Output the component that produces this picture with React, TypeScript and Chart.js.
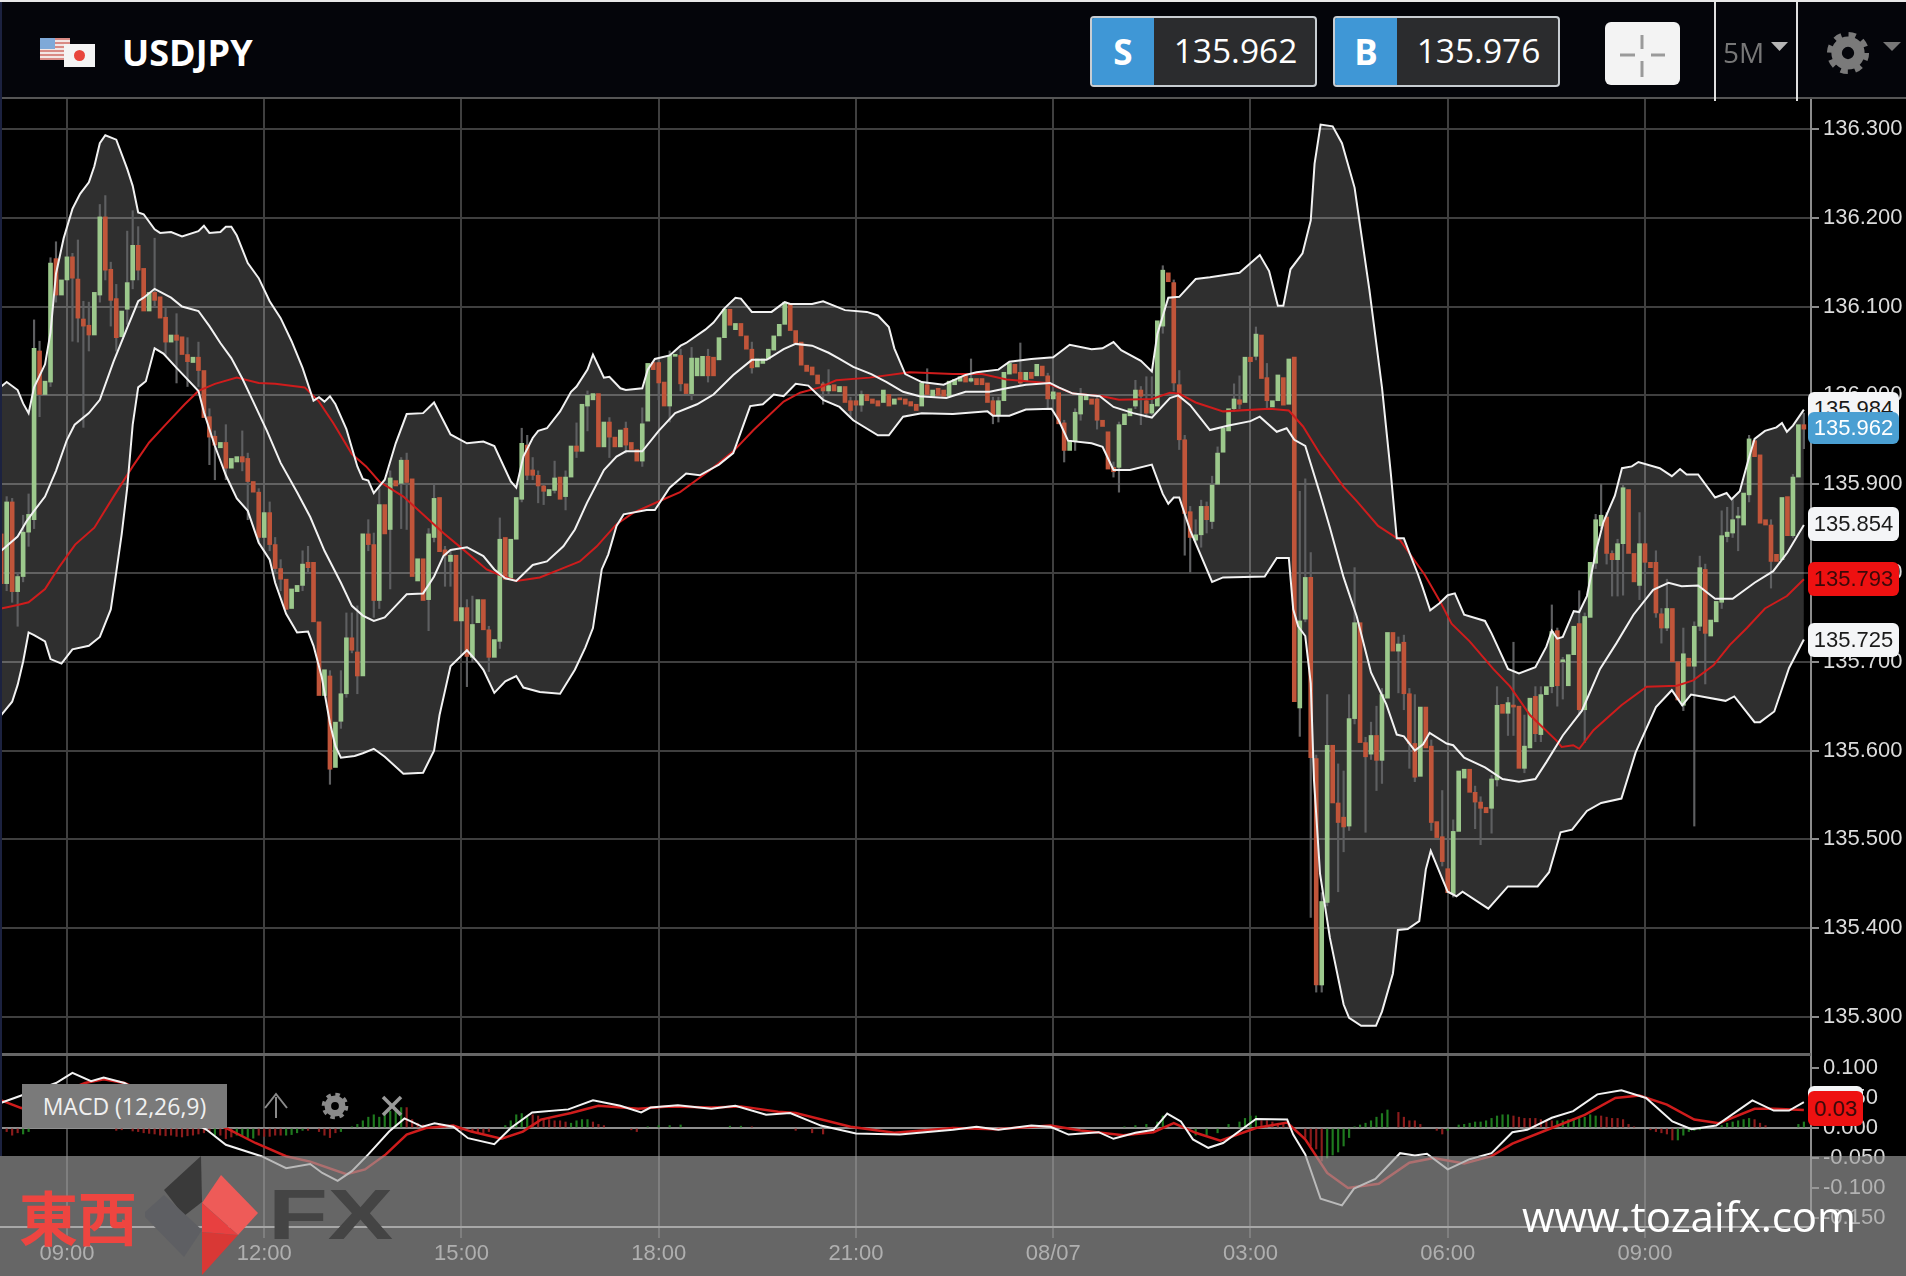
import React, { useEffect, useRef } from "react";
import { Chart, registerables } from "chart.js";

Chart.register(...registerables);

const opens = [
  135.844,135.788,135.880,135.779,135.796,135.846,135.860,136.050,136.001,136.015,
  136.154,136.113,136.130,136.156,136.131,136.086,136.079,136.068,136.113,136.201,
  136.142,136.109,136.066,136.097,136.130,136.169,136.143,136.095,136.116,136.111,
  136.088,136.060,136.068,136.066,136.046,136.037,136.043,136.028,135.976,135.954,
  135.941,135.947,135.918,135.925,135.931,135.929,135.903,135.891,135.840,135.868,
  135.832,135.805,135.793,135.760,135.779,135.786,135.812,135.812,135.745,135.662,
  135.684,135.581,135.633,135.664,135.727,135.711,135.684,135.844,135.832,135.769,
  135.877,135.849,135.904,135.901,135.927,135.906,135.791,135.816,135.770,135.840,
  135.885,135.826,135.813,135.820,135.746,135.761,135.705,135.744,135.770,135.736,
  135.705,135.723,135.840,135.794,135.838,135.883,135.944,135.916,135.910,135.898,
  135.887,135.893,135.908,135.886,135.908,135.943,135.937,135.988,135.995,136.002,
  135.942,135.970,135.953,135.942,135.963,135.947,135.939,135.926,135.971,136.037,
  136.037,136.015,135.988,136.044,136.045,136.013,136.002,136.022,136.022,136.044,
  136.043,136.040,136.065,136.097,136.074,136.081,136.067,136.052,136.032,136.036,
  136.041,136.051,136.067,136.080,136.103,136.073,136.060,136.034,136.032,136.023,
  136.013,136.005,136.012,136.004,136.010,135.994,135.994,135.989,136.001,135.996,
  135.994,135.992,136.001,135.990,135.996,135.996,135.993,135.990,135.988,136.012,
  135.999,136.008,136.006,135.999,136.012,136.016,136.022,136.016,136.019,136.019,
  136.014,135.994,135.978,135.994,136.024,136.035,136.026,136.016,136.026,136.022,
  136.033,136.022,135.996,136.003,135.969,135.938,135.949,135.979,135.995,135.996,
  135.996,135.972,135.959,135.919,135.919,135.967,135.977,135.988,136.006,135.994,
  135.980,135.988,136.078,136.138,136.127,136.012,135.950,135.869,135.837,135.843,
  135.875,135.858,135.900,135.936,135.960,135.985,135.995,135.992,136.043,136.044,
  136.068,136.020,135.987,135.994,136.020,135.990,136.043,135.648,135.748,135.795,
  135.591,135.336,135.429,135.606,135.541,135.525,135.515,135.636,135.744,135.609,
  135.596,135.617,135.589,135.659,135.733,135.712,135.722,135.664,135.608,135.571,
  135.649,135.605,135.520,135.503,135.467,135.439,135.509,135.569,135.579,135.553,
  135.542,135.536,135.535,135.567,135.652,135.642,135.650,135.650,135.580,135.603,
  135.661,135.618,135.663,135.672,135.735,135.700,135.673,135.708,135.743,135.646,
  135.750,135.811,135.853,135.863,135.822,135.815,135.833,135.894,135.822,135.786,
  135.833,135.812,135.812,135.754,135.738,135.760,135.700,135.651,135.704,135.695,
  135.740,135.804,135.729,135.745,135.767,135.841,135.845,135.862,135.854,135.888,
  135.949,135.933,135.860,135.854,135.821,135.815,135.886,135.842,135.908,135.967,
];

const closes = [
  135.788,135.880,135.779,135.796,135.846,135.866,136.053,136.001,136.016,136.149,
  136.113,136.130,136.156,136.132,136.087,136.078,136.068,136.116,136.201,136.141,
  136.107,136.065,136.095,136.127,136.169,136.141,136.095,136.116,136.107,136.087,
  136.060,136.068,136.062,136.046,136.038,136.043,136.028,135.975,135.953,135.944,
  135.947,135.918,135.929,135.931,135.925,135.903,135.891,135.840,135.868,135.832,
  135.805,135.793,135.759,135.782,135.786,135.810,135.806,135.745,135.662,135.691,
  135.579,135.632,135.664,135.727,135.713,135.684,135.844,135.832,135.769,135.877,
  135.844,135.907,135.898,135.927,135.902,135.796,135.816,135.769,135.844,135.884,
  135.824,135.820,135.820,135.746,135.761,135.706,135.742,135.770,135.736,135.705,
  135.725,135.838,135.793,135.838,135.885,135.946,135.910,135.910,135.898,135.892,
  135.894,135.907,135.883,135.908,135.943,135.937,135.990,136.000,136.002,135.942,
  135.970,135.953,135.942,135.961,135.944,135.939,135.926,135.968,136.036,136.029,
  136.014,135.988,136.045,136.045,136.013,136.002,136.042,136.042,136.044,136.022,
  136.022,136.065,136.097,136.079,136.081,136.067,136.052,136.031,136.041,136.041,
  136.052,136.067,136.080,136.105,136.073,136.059,136.034,136.027,136.023,136.013,
  136.005,136.011,136.005,136.010,135.992,135.983,135.989,136.001,135.994,135.991,
  135.988,136.006,135.988,135.996,135.995,135.990,135.988,135.983,136.014,136.001,
  136.006,136.000,135.999,136.016,136.018,136.021,136.015,136.019,136.012,136.012,
  135.992,135.978,135.994,136.026,136.036,136.025,136.014,136.026,136.019,136.035,
  136.022,135.996,136.004,135.968,135.938,135.949,135.981,136.001,136.001,135.990,
  135.972,135.965,135.917,135.914,135.967,135.979,135.985,136.006,135.999,135.980,
  135.990,136.084,136.141,136.128,136.014,135.950,135.867,135.840,135.843,135.875,
  135.860,135.899,135.935,135.963,135.985,135.996,135.990,136.043,136.038,136.069,
  136.019,135.994,135.994,136.023,135.989,136.041,135.655,135.746,135.795,135.592,
  135.336,135.430,135.606,135.541,135.519,135.514,135.636,135.744,135.609,135.593,
  135.617,135.589,135.663,135.733,135.712,135.720,135.664,135.608,135.570,135.649,
  135.603,135.519,135.502,135.475,135.440,135.509,135.577,135.579,135.553,135.542,
  135.535,135.530,135.568,135.651,135.642,135.654,135.649,135.580,135.605,135.659,
  135.619,135.663,135.672,135.734,135.673,135.701,135.708,135.740,135.646,135.751,
  135.812,135.860,135.865,135.822,135.815,135.833,135.896,135.822,135.790,135.833,
  135.812,135.806,135.755,135.738,135.760,135.700,135.657,135.709,135.695,135.740,
  135.806,135.732,135.747,135.768,135.842,135.846,135.860,135.863,135.890,135.951,
  135.931,135.856,135.854,135.813,135.813,135.885,135.842,135.908,135.967,135.962,
];

const wickIdx = [
  1,2,3,4,5,6,7,9,10,13,14,15,16,18,19,20,21,23,24,25,28,30,32,34,36,38,39,41,44,45,47,49,50,51,55,56,60,62,63,64,65,67,68,69,71,73,74,78,79,
  81,82,85,86,89,91,95,96,97,98,99,101,103,105,107,111,114,117,120,122,124,126,129,137,150,151,155,157,169,177,181,182,186,191,194,196,197,200,
  203,204,207,208,209,210,212,214,215,216,217,218,219,220,221,222,225,226,229,231,237,238,239,240,241,242,244,245,246,247,249,250,251,252,255,256,257,258,
  261,263,265,269,270,272,273,275,276,278,280,281,283,284,285,288,289,291,292,293,294,295,296,299,300,302,303,304,307,309,310,311,314,315,316,317,319,323,327,329,
];
const wickHigh = [
  135.886,135.884,135.800,135.865,135.889,136.085,136.061,136.155,136.173,136.160,136.175,136.106,136.105,136.215,136.225,136.150,136.125,136.185,136.208,136.190,136.177,136.100,136.092,136.065,136.060,135.985,135.960,135.967,135.960,135.935,135.895,135.880,135.840,135.815,135.825,135.830,135.690,135.690,135.755,135.755,135.763,135.860,135.845,135.895,135.915,135.930,135.935,135.850,135.900,
  135.830,135.825,135.770,135.774,135.740,135.862,135.963,135.955,135.930,135.915,135.900,135.926,135.915,135.969,136.005,135.975,135.970,135.986,136.040,136.050,136.052,136.054,136.052,136.060,136.015,136.029,135.998,136.005,136.030,136.041,135.998,135.998,136.059,136.025,135.972,135.985,136.008,136.000,
  135.925,135.970,136.017,136.010,136.021,136.021,136.146,136.130,136.028,135.955,135.875,135.860,135.882,135.880,135.909,135.942,136.013,136.022,136.077,136.036,135.892,135.906,135.823,135.595,135.440,135.663,135.585,135.577,135.663,135.806,135.615,135.632,135.650,135.670,135.728,135.730,135.670,135.663,
  135.612,135.555,135.522,135.560,135.548,135.572,135.672,135.660,135.722,135.640,135.672,135.672,135.764,135.738,135.705,135.780,135.755,135.866,135.900,135.868,135.825,135.838,135.900,135.868,135.868,135.825,135.760,135.793,135.738,135.745,135.819,135.810,135.870,135.874,135.883,135.874,135.955,135.860,135.911,135.980,
];
const wickLow = [
  135.780,135.767,135.740,135.790,135.830,135.850,135.976,136.010,136.105,136.061,136.060,135.964,136.050,136.105,136.130,136.078,136.050,136.080,136.120,136.130,136.100,136.045,136.014,136.010,136.010,135.922,135.905,135.905,135.915,135.860,135.835,135.825,135.800,135.780,135.780,135.800,135.562,135.625,135.660,135.710,135.664,135.825,135.750,135.760,135.782,135.850,135.849,135.735,135.835,
  135.785,135.785,135.672,135.700,135.689,135.715,135.880,135.905,135.905,135.879,135.877,135.890,135.871,135.930,135.960,135.930,135.935,135.920,135.995,135.970,136.005,135.995,136.015,136.025,135.990,136.000,135.975,135.982,135.998,136.015,135.968,135.970,136.012,135.985,135.925,135.938,135.972,135.962,
  135.908,135.891,135.985,135.967,135.975,135.978,136.070,136.005,135.939,135.820,135.801,135.835,135.829,135.845,135.850,135.930,135.982,135.985,136.040,135.985,135.616,135.745,135.412,135.328,135.328,135.425,135.441,135.486,135.510,135.630,135.508,135.590,135.555,135.563,135.665,135.646,135.580,135.565,
  135.510,135.470,135.435,135.512,135.494,135.507,135.560,135.617,135.617,135.575,135.610,135.610,135.665,135.650,135.658,135.640,135.609,135.805,135.850,135.810,135.774,135.774,135.775,135.770,135.800,135.750,135.721,135.735,135.645,135.515,135.735,135.675,135.760,135.835,135.840,135.825,135.880,135.783,135.840,135.940,
];

const upperX = [0,1,3,4,5,6,8,9,10,11.4,13,14.4,16,17,18,19,21,23,24,25,26,28,29,31,33,36,37,38,40,41,42,43,45,47,49,51,53,55,57,58,59,60,61,63,65,66,67,68,70,72,74,77,79,82,85,88,90,93,94,95.3,97,98,99.6,102,104,105,107,108,110,111,113,114,117,118,119.3,122,124,125,128.5,130,132,134,135,137,140.6,143,144,148,150,154,158,160,162,163,165,168,172,176,178,182,184,188,192,195,199,201,203,204.4,208,210,211,213,215,218,220.6,226,229.7,231.4,233,234,235.3,237.5,239,239.7,240.8,243,244.7,247,249.7,252,253.6,254.7,256,257,258.6,259.4,260.8,262.5,264,265.3,267,270.8,272,275,277,280,282,283,284,285,287,288,289.4,291,292.4,294.5,295.8,297.6,298.8,302.7,304.9,306.4,307.6,309.7,312.8,314.9,315.8,317.3,318.9,320,321.9,324,325,325.9,327,329];
const upperY = [136.010,136.015,136.006,135.991,135.980,136.009,136.035,136.071,136.137,136.177,136.210,136.227,136.240,136.258,136.284,136.293,136.288,136.255,136.236,136.206,136.204,136.187,136.183,136.184,136.179,136.185,136.191,136.183,136.184,136.190,136.190,136.180,136.149,136.132,136.106,136.087,136.061,136.031,135.994,135.998,135.993,135.999,135.990,135.962,135.920,135.906,135.904,135.890,135.905,135.946,135.979,135.980,135.992,135.956,135.946,135.948,135.943,135.903,135.896,135.931,135.952,135.960,135.963,135.982,136.004,136.010,136.029,136.046,136.020,136.021,136.008,136.006,136.008,136.029,136.041,136.045,136.056,136.059,136.074,136.082,136.098,136.110,136.109,136.094,136.094,136.105,136.103,136.103,136.106,136.096,136.094,136.090,136.077,136.053,136.024,136.015,136.012,136.023,136.026,136.029,136.038,136.041,136.043,136.057,136.052,136.053,136.060,136.051,136.039,136.027,136.069,136.110,136.111,136.131,136.133,136.138,136.158,136.140,136.101,136.101,136.142,136.160,136.197,136.261,136.305,136.303,136.284,136.234,136.119,136.009,135.913,135.839,135.839,135.823,135.798,135.784,135.758,135.766,135.775,135.777,135.753,135.746,135.732,135.692,135.687,135.694,135.717,135.735,135.726,135.728,135.757,135.756,135.774,135.823,135.857,135.887,135.918,135.920,135.925,135.918,135.909,135.917,135.911,135.911,135.885,135.890,135.883,135.892,135.928,135.951,135.960,135.964,135.969,135.959,135.966,135.984];

const lowerX = [0,2,3,4,5,6,8,9,11,13,16,18,20,21,22,23,24,25,26.4,28,29.6,32,34,36,37,39,41,43,45,47,49,50,52,54,56,57,58.5,60,61,62,64.5,66,68,70,73.4,77,79,80,82,85,87,88,90,92,94,95.3,98.3,102,104.7,106.6,108,109.6,110.8,112.3,113.6,117.8,119.3,122,125,127.5,131,133.6,136.7,139,141,142.8,145,147.3,150,153,155.5,160,162,164.6,168,173.7,180,181,184,187,191.7,193,194.7,199,201,203,206,210,212,213,214,215,217,221,223,230.6,232.8,235,235.8,236.7,238,239,239.6,240.7,242.5,245,246,248.2,250.9,252,254,254.9,256.7,258.8,260,260.9,264,265.6,266.7,271.4,275,280.4,282.5,284.6,286.7,289.4,292,295.7,298.3,302,304.9,306.8,308.4,314.7,316.3,320,321,323.6,326.3,329];
const lowerY = [135.640,135.655,135.674,135.700,135.733,135.730,135.723,135.703,135.698,135.714,135.718,135.728,135.759,135.801,135.844,135.896,135.967,136.009,136.016,136.053,136.047,136.031,136.018,136.005,135.981,135.943,135.910,135.884,135.870,135.834,135.815,135.789,135.754,135.733,135.734,135.718,135.683,135.631,135.605,135.592,135.594,135.597,135.602,135.593,135.574,135.575,135.600,135.640,135.695,135.713,135.699,135.691,135.665,135.678,135.684,135.671,135.666,135.664,135.691,135.716,135.738,135.804,135.821,135.853,135.866,135.871,135.871,135.896,135.912,135.910,135.922,135.935,135.988,135.990,136.001,135.999,136.013,136.011,135.995,135.987,135.972,135.955,135.955,135.976,135.980,135.979,135.982,135.977,135.977,135.984,135.985,135.972,135.949,135.946,135.942,135.916,135.916,135.922,135.889,135.878,135.885,135.885,135.848,135.790,135.795,135.796,135.817,135.817,135.759,135.740,135.729,135.676,135.566,135.461,135.389,135.314,135.299,135.290,135.290,135.306,135.349,135.398,135.399,135.408,135.466,135.487,135.441,135.436,135.441,135.422,135.447,135.447,135.463,135.508,135.511,135.532,135.541,135.546,135.598,135.649,135.668,135.651,135.663,135.656,135.661,135.632,135.632,135.644,135.693,135.725];

const midX = [0,3,4.6,6,8,10,12,13.4,16,18,20.5,23,25,26,28,31,33,36,38,40,42,44,46,48.5,51,54,56.4,59,62,64,66,68,70,72,74,77,79,80.7,82,85,88,90,92,94,97,99.6,102.6,104.7,106.9,110,112.3,114,117,120,123,127,130,133.6,137,139.7,142.8,145,148,151,153,155.5,158.8,161.6,164.6,167.6,172.5,176,180.4,183.5,187,191.4,193,195.6,200.5,203,206.6,210,213.3,214.8,217,220.6,224,228,229.7,232.8,234.6,236,238,240.7,242.5,245,247.4,250,252.8,254.7,256,258,259.5,260.7,263.8,265,267,270.8,274,277,280,282,285,288.5,291.8,294.8,297.9,301.5,304.3,306.7,309.7,312.8,316,320,323.4,326,329];
const midY = [135.825,135.841,135.858,135.870,135.886,135.915,135.950,135.967,135.980,135.995,136.038,136.076,136.106,136.110,136.120,136.110,136.100,136.095,136.078,136.059,136.042,136.019,135.993,135.960,135.924,135.891,135.863,135.825,135.789,135.763,135.752,135.746,135.750,135.763,135.776,135.777,135.796,135.819,135.826,135.829,135.819,135.804,135.794,135.791,135.809,135.813,135.830,135.849,135.879,135.916,135.931,135.937,135.937,135.960,135.980,135.990,136.001,136.023,136.040,136.040,136.052,136.058,136.056,136.048,136.041,136.032,136.024,136.015,136.004,135.999,135.997,136.004,136.004,136.008,136.012,136.014,136.009,136.002,135.999,135.987,135.980,135.975,135.997,136.000,135.989,135.961,135.966,135.971,135.976,135.959,135.963,135.950,135.943,135.889,135.851,135.795,135.751,135.688,135.652,135.618,135.616,135.600,135.607,135.620,135.608,135.606,135.592,135.581,135.568,135.565,135.568,135.587,135.617,135.645,135.692,135.721,135.753,135.781,135.789,135.785,135.786,135.771,135.771,135.789,135.802,135.823,135.854];

const maX = [0,3,5,8,10.5,13.5,17,20.5,24,27,30,33.5,36,39,43,47,50,55.4,58,60.6,64,66.6,69,73.4,77.7,80.7,84.4,88.6,91.7,94,98.3,102,105.6,108.7,112.3,115.4,120.9,123.9,129.4,133.6,137.3,142.8,145.8,149.4,152.4,158.5,165.8,173.7,179,183.5,190.8,195.6,201,204,210,213.3,215,218,223,231.5,235,237.6,240.7,245,247.4,251.3,255.3,259.8,262.6,264.7,268,272.3,275.4,279,283.9,284.8,286.9,288,290.6,295.7,300.3,305.8,308.8,312.5,315.5,318.6,321.9,325.9,329];
const maY = [135.760,135.764,135.767,135.782,135.806,135.832,135.851,135.886,135.920,135.947,135.967,135.990,136.005,136.013,136.020,136.014,136.013,136.009,135.993,135.969,135.934,135.920,135.903,135.886,135.862,135.845,135.826,135.804,135.796,135.791,135.795,135.804,135.813,135.830,135.855,135.868,135.883,135.891,135.916,135.937,135.961,135.993,136.003,136.009,136.017,136.020,136.026,136.024,136.024,136.018,136.014,136.002,135.999,135.995,135.996,136.003,136.002,135.992,135.982,135.985,135.983,135.965,135.934,135.897,135.881,135.853,135.837,135.798,135.768,135.743,135.723,135.692,135.672,135.640,135.611,135.604,135.606,135.602,135.623,135.651,135.672,135.673,135.679,135.696,135.719,135.738,135.760,135.774,135.793];

const macdX = [0,10,13,16.4,18.7,22.5,37.5,41,47.5,52,56.4,58.6,61.4,64,67,70.8,73.6,76.9,79.1,82.5,85.2,90,93,96.9,103.5,108,113,116.8,118.5,123.5,129.6,134,139.6,144,149.6,156,164,173.7,178,182,188,191.5,194.8,200.3,203,207,210.3,212.8,215.3,217.5,220.3,223,229,234.7,235.8,238,240.8,244.7,246.9,250.8,255.3,258,260.2,264,268,272,275.8,278.5,283,286.9,291.3,295.7,300.2,305,308.5,313,316.8,319.6,323.5,326.3,329];
const macdY = [0.042,0.075,0.092,0.078,0.084,0.075,-0.003,-0.028,-0.047,-0.067,-0.060,-0.075,-0.088,-0.072,-0.044,-0.006,0.016,0.002,0.008,0.002,-0.017,-0.027,0,0.026,0.031,0.046,0.037,0.026,0.034,0.038,0.032,0.037,0.022,0.025,0.004,-0.009,-0.011,-0.003,0.002,-0.003,0.004,0.002,-0.011,-0.007,-0.018,-0.008,-0.003,0.024,0.011,-0.019,-0.033,-0.025,0.015,0.014,-0.011,-0.044,-0.118,-0.129,-0.101,-0.085,-0.042,-0.046,-0.043,-0.069,-0.052,-0.042,-0.007,-0.003,0.017,0.028,0.056,0.063,0.050,0.011,-0.002,0.004,0.028,0.046,0.029,0.029,0.043];
const signalX = [0,3.7,15.3,18.7,22.5,41,46.4,52,56.4,63,66.4,70.2,74,77.5,82.5,85.8,91.3,95.2,98.5,104,109,116.3,121.8,129.6,135,141.8,145,155,163,173.7,181.5,191.5,197,204.8,210.3,214,218,222.5,229,234.7,238,242,245.8,251.4,257,261.4,267,272,275.8,283,289,294.6,299,304,309,313.5,320,323.5,329];
const signalY = [0.046,0.033,0.075,0.081,0.075,0,-0.025,-0.047,-0.056,-0.077,-0.069,-0.044,-0.011,0,0.004,-0.006,-0.018,-0.006,0.014,0.025,0.037,0.032,0.036,0.034,0.036,0.027,0.025,0.002,-0.008,0,-0.002,0.004,-0.004,-0.012,-0.007,0.008,-0.008,-0.021,0,0.009,-0.019,-0.075,-0.100,-0.093,-0.058,-0.050,-0.059,-0.047,-0.026,0,0.022,0.050,0.054,0.039,0.014,0.008,0.032,0.032,0.030];

const histGreenX = [4,5,39,43,44,45,46,52,53,54,55,62,64,65,66,67,68,69,70,71,72,73,92,93,94,95,96,104,105,106,107,118,120,122,124,133,135,205,207,209,211,212,218,220,222,224,226,227,228,229,242,243,244,245,246,247,248,249,250,251,252,253,264,266,267,268,269,270,271,272,273,274,275,284,285,286,287,288,289,290,291,306,307,308,309,310,314,315,316,317,318,319,328,329];
const histGreenY = [-0.010,-0.006,-0.012,-0.012,-0.013,-0.016,-0.017,-0.012,-0.011,-0.008,-0.004,-0.006,0.002,0.006,0.012,0.018,0.022,0.018,0.026,0.028,0.032,0.034,0.004,0.012,0.022,0.024,0.020,0.008,0.012,0.014,0.014,0.002,0.004,0.004,0.005,0.003,0.003,0.002,0.004,0.006,0.010,0.020,-0.012,-0.012,-0.008,0.006,0.010,0.016,0.020,0.020,-0.050,-0.045,-0.040,-0.030,-0.016,0.002,0.005,0.008,0.012,0.018,0.024,0.030,-0.004,0.005,0.006,0.008,0.010,0.010,0.012,0.016,0.020,0.022,0.022,0.012,0.012,0.014,0.016,0.016,0.018,0.022,0.020,-0.020,-0.012,-0.006,-0.004,-0.003,0.004,0.008,0.010,0.012,0.014,0.016,0.006,0.010];
const histRedX = [1,2,3,21,22,24,25,26,27,28,29,30,31,32,33,34,35,36,37,38,40,41,42,47,48,49,50,51,56,58,59,60,61,74,75,76,77,80,81,83,84,86,87,88,89,97,98,99,100,101,102,103,108,109,110,115,116,137,145,148,150,230,231,232,233,234,235,238,239,240,241,255,256,257,258,259,262,263,276,277,278,279,280,281,282,283,292,293,294,295,296,297,298,301,302,303,304,305,320,321,322];
const histRedY = [-0.006,-0.012,-0.008,-0.004,-0.003,-0.005,-0.006,-0.008,-0.009,-0.010,-0.012,-0.013,-0.012,-0.014,-0.015,-0.013,-0.012,-0.010,-0.008,-0.006,-0.012,-0.018,-0.015,-0.012,-0.014,-0.014,-0.012,-0.012,-0.004,-0.006,-0.012,-0.016,-0.008,0.034,0.014,0.008,0.005,0.006,0.004,-0.002,-0.004,-0.006,-0.008,-0.008,-0.006,0.022,0.020,0.016,0.014,0.012,0.012,0.010,0.010,0.006,0.004,-0.003,-0.006,0.002,-0.004,-0.008,-0.010,0.012,0.012,0.010,0.008,0.006,0.005,-0.016,-0.030,-0.035,-0.055,0.026,0.018,0.012,0.012,0.006,-0.004,-0.010,0.020,0.018,0.016,0.016,0.016,0.014,0.012,0.012,0.020,0.018,0.016,0.016,0.014,0.006,0.002,-0.003,-0.006,-0.008,-0.010,-0.020,0.014,0.008,0.004];

const priceTicks = [136.3, 136.2, 136.1, 136.0, 135.9, 135.8, 135.7, 135.6, 135.5, 135.4, 135.3];
const macdTicks = [0.1, 0.05, 0, -0.05, -0.1, -0.15];
const timeTicks = [12, 48, 84, 120, 156, 192, 228, 264, 300];
const timeLabels = ["09:00", "12:00", "15:00", "18:00", "21:00", "08/07", "03:00", "06:00", "09:00"];

const zip = (xs: number[], ys: number[]) => xs.map((x, i) => ({ x, y: ys[i] }));
const AXIS_FONT = { family: "'Liberation Sans'", size: 22 };
const setTicks = (list: number[]) => (s: any) => {
  s.ticks = list.map((value) => ({ value }));
};
const clearPadding = (s: any) => {
  s.paddingTop = 0;
  s.paddingBottom = 0;
  s.paddingLeft = 0;
  s.paddingRight = 0;
};
const xLeft = -0.219;
const xRight = 330.3;

function line(data: any[], color: string, width = 2, extra: any = {}) {
  return {
    type: "line",
    data,
    borderColor: color,
    borderWidth: width,
    pointRadius: 0,
    tension: 0,
    order: 0,
    ...extra,
  };
}

function xScale(showLabels: boolean, gridColor: string) {
  return {
    type: "linear",
    offset: false,
    min: xLeft,
    max: xRight,
    afterBuildTicks: setTicks(timeTicks),
    afterFit: (s: any) => {
      clearPadding(s);
      s.height = showLabels ? 49 : 0;
    },
    border: showLabels ? { display: true, color: "#bbbbbb", width: 2 } : { display: false },
    grid: {
      offset: false,
      color: gridColor,
      lineWidth: 2,
      drawTicks: showLabels,
      tickLength: 11,
      tickColor: gridColor,
    },
    ticks: {
      display: showLabels,
      autoSkip: false,
      maxRotation: 0,
      minRotation: 0,
      padding: 3,
      color: "#d2d2d2",
      font: AXIS_FONT,
      callback: (v: number) => timeLabels[timeTicks.indexOf(v)] ?? "",
    },
  };
}

function yScale(min: number, max: number, list: number[], grid: any) {
  return {
    position: "right",
    min,
    max,
    afterBuildTicks: setTicks(list),
    afterFit: (s: any) => {
      clearPadding(s);
      s.width = 95;
    },
    border: { color: "#8c8c8c", width: 2 },
    grid: { lineWidth: 2, tickLength: 8, tickColor: "#8c8c8c", ...grid },
    ticks: {
      padding: 4,
      color: "#dcdcdc",
      font: AXIS_FONT,
      autoSkip: false,
      callback: (v: number) => v.toFixed(3),
    },
  };
}

const baseOptions: any = {
  responsive: false,
  animation: false,
  devicePixelRatio: 1,
  layout: { padding: 0 },
  events: [],
  plugins: {
    legend: { display: false },
    tooltip: { enabled: false },
    filler: { drawTime: "beforeDatasetsDraw" },
  },
};

function Badge(p: { top: number; h: number; bg: string; color: string; text: string; w?: number }) {
  return (
    <div
      style={{
        position: "absolute",
        left: 1808,
        top: p.top,
        width: p.w ?? 91,
        height: p.h,
        background: p.bg,
        color: p.color,
        borderRadius: 6,
        font: "22px 'Liberation Sans'",
        lineHeight: p.h + "px",
        textAlign: "center",
      }}
    >
      {p.text}
    </div>
  );
}

function Quote(p: { left: number; letter: string; price: string }) {
  return (
    <div
      style={{
        position: "absolute",
        left: p.left,
        top: 16,
        width: 227,
        height: 71,
        boxSizing: "border-box",
        border: "2px solid #c8cdd2",
        borderRadius: 4,
        background: "#2b2c2e",
        overflow: "hidden",
      }}
    >
      <div
        style={{
          position: "absolute",
          left: 0,
          top: 0,
          width: 62,
          height: 67,
          background: "#3f97d6",
          color: "#fff",
          font: "700 35px 'Open Sans'",
          lineHeight: "67px",
          textAlign: "center",
        }}
      >
        {p.letter}
      </div>
      <div
        style={{
          position: "absolute",
          left: 62,
          top: 0,
          width: 163,
          height: 64,
          color: "#fff",
          font: "33.5px 'Open Sans'",
          lineHeight: "64px",
          textAlign: "center",
        }}
      >
        {p.price}
      </div>
    </div>
  );
}

function Gear(p: { cx: number; cy: number; r: number; color: string }) {
  const { cx, cy, r, color } = p;
  const circ = 2 * Math.PI * r * 0.95;
  return (
    <g fill="none" stroke={color}>
      <circle cx={cx} cy={cy} r={r * 0.6} strokeWidth={r * 0.55} />
      <circle cx={cx} cy={cy} r={r * 0.95} strokeWidth={r * 0.32} strokeDasharray={`${circ / 16} ${circ / 16}`} />
    </g>
  );
}

export default function App() {
  const mainRef = useRef<HTMLCanvasElement>(null);
  const macdRef = useRef<HTMLCanvasElement>(null);

  useEffect(() => {
    const candleBodies = opens.map((o, i) => ({ x: i, y: [o, closes[i]] }));
    const candleColors = opens.map((o, i) => (closes[i] >= o ? "#9cc88c" : "#c0553a"));
    const wicks = wickIdx.map((x, i) => ({ x, y: [wickLow[i], wickHigh[i]] }));

    const main = new Chart(mainRef.current as HTMLCanvasElement, {
      type: "bar",
      data: {
        datasets: [
          line(zip(upperX, upperY), "#f2f2f2", 2, { fill: "+1", backgroundColor: "rgba(255,255,255,0.185)" }),
          line(zip(lowerX, lowerY), "#f2f2f2", 2),
          line(zip(midX, midY), "#f2f2f2", 2),
          line(zip(maX, maY), "#cf1c1c", 2),
          {
            type: "bar",
            data: candleBodies,
            backgroundColor: candleColors,
            barThickness: 4,
            minBarLength: 2,
            grouped: false,
            order: 1,
          },
          {
            type: "bar",
            data: wicks,
            backgroundColor: "#5e5f61",
            barThickness: 1.5,
            grouped: false,
            order: 2,
          },
        ],
      } as any,
      options: {
        ...baseOptions,
        scales: {
          x: xScale(false, "#3f3f3f"),
          y: yScale(135.2583, 136.3349, priceTicks, { color: "#3f3f3f" }),
        },
      },
    });

    const macd = new Chart(macdRef.current as HTMLCanvasElement, {
      type: "bar",
      data: {
        datasets: [
          line(zip(macdX, macdY), "#f2f2f2", 2),
          line(zip(signalX, signalY), "#cf1c1c", 2.5),
          {
            type: "bar",
            data: zip(histGreenX, histGreenY),
            backgroundColor: "#1f7a1f",
            barThickness: 1.5,
            grouped: false,
            order: 1,
          },
          {
            type: "bar",
            data: zip(histRedX, histRedY),
            backgroundColor: "#8c1c1c",
            barThickness: 1.5,
            grouped: false,
            order: 1,
          },
        ],
      } as any,
      options: {
        ...baseOptions,
        scales: {
          x: xScale(true, "#4a4a4a"),
          y: yScale(-0.165, 0.1233, macdTicks, {
            color: (c: any) => (c.tick && c.tick.value === 0 ? "#8f8f8f" : "rgba(0,0,0,0)"),
          }),
        },
      },
    });

    return () => {
      main.destroy();
      macd.destroy();
    };
  }, []);

  return (
    <div
      style={{
        position: "absolute",
        left: 0,
        top: 0,
        width: 1906,
        height: 1276,
        overflow: "hidden",
        background: "#000",
      }}
    >
      <canvas
        ref={mainRef}
        width={1906}
        height={956}
        style={{ position: "absolute", left: 0, top: 98, display: "block" }}
      />
      <canvas
        ref={macdRef}
        width={1906}
        height={222}
        style={{ position: "absolute", left: 0, top: 1054, display: "block" }}
      />

      {/* panel separators */}
      <div style={{ position: "absolute", left: 0, top: 1053, width: 1811, height: 3, background: "#666" }} />

      {/* header */}
      <div style={{ position: "absolute", left: 0, top: 0, width: 1906, height: 98, background: "#04050a" }} />
      <div style={{ position: "absolute", left: 0, top: 0, width: 1906, height: 2, background: "#e8e8e8" }} />
      <div style={{ position: "absolute", left: 0, top: 97, width: 1906, height: 2, background: "#555" }} />
      <div style={{ position: "absolute", left: 0, top: 2, width: 2, height: 1154, background: "#1c2240" }} />
      <div style={{ position: "absolute", left: 1714, top: 2, width: 2, height: 99, background: "#e0e0e0" }} />
      <div style={{ position: "absolute", left: 1796, top: 2, width: 2, height: 99, background: "#e0e0e0" }} />

      {/* flags */}
      <div
        style={{
          position: "absolute",
          left: 40,
          top: 38,
          width: 30,
          height: 22,
          background: "repeating-linear-gradient(#d98a84 0 2px, #f3e6e4 2px 4px)",
        }}
      >
        <div style={{ width: 15, height: 11, background: "#7fa9d8" }} />
      </div>
      <div style={{ position: "absolute", left: 64, top: 44, width: 31, height: 23, background: "#f4f4f4" }}>
        <div
          style={{
            position: "absolute",
            left: 10,
            top: 6,
            width: 11,
            height: 11,
            borderRadius: 6,
            background: "#e8453c",
          }}
        />
      </div>

      <div
        style={{
          position: "absolute",
          left: 122,
          top: 28,
          color: "#fff",
          font: "700 36px 'Open Sans'",
          lineHeight: "50px",
        }}
      >
        USDJPY
      </div>

      <Quote left={1090} letter="S" price="135.962" />
      <Quote left={1333} letter="B" price="135.976" />

      <div
        style={{
          position: "absolute",
          left: 1605,
          top: 22,
          width: 75,
          height: 63,
          background: "#f3f3f3",
          borderRadius: 6,
        }}
      />

      <div
        style={{
          position: "absolute",
          left: 1723,
          top: 32,
          color: "#777",
          font: "28px 'Open Sans'",
          lineHeight: "40px",
        }}
      >
        5M
      </div>

      {/* MACD caption */}
      <div
        style={{
          position: "absolute",
          left: 22,
          top: 1084,
          width: 205,
          height: 44,
          background: "#7a7a7a",
          color: "#f0f0f0",
          font: "23px 'Open Sans'",
          lineHeight: "44px",
          textAlign: "center",
        }}
      >
        MACD (12,26,9)
      </div>

      {/* price badges */}
      <Badge top={392} h={34} bg="#f4f5f7" color="#1a1a1a" text="135.984" />
      <Badge top={412} h={32} bg="#4a9fd2" color="#ffffff" text="135.962" />
      <Badge top={507} h={34} bg="#f4f5f7" color="#1a1a1a" text="135.854" />
      <Badge top={562} h={34} bg="#ee1111" color="#3a0a0a" text="135.793" />
      <Badge top={623} h={34} bg="#f4f5f7" color="#1a1a1a" text="135.725" />
      <Badge top={1086} h={30} bg="#f4f5f7" color="#f4f5f7" text="" w={55} />
      <Badge top={1091} h={35} bg="#ee1111" color="#3a0a0a" text="0.03" w={55} />

      {/* watermark band */}
      <div
        style={{
          position: "absolute",
          left: 0,
          top: 1156,
          width: 1906,
          height: 120,
          background: "rgba(156,156,156,0.655)",
        }}
      />

      {/* icons and logo */}
      <svg width={1906} height={1276} style={{ position: "absolute", left: 0, top: 0, pointerEvents: "none" }}>
        <g stroke="#9a9a9a" strokeWidth={3}>
          <line x1={1620} y1={55} x2={1635} y2={55} />
          <line x1={1651} y1={55} x2={1665} y2={55} />
          <line x1={1642} y1={35} x2={1642} y2={49} />
          <line x1={1642} y1={61} x2={1642} y2={77} />
        </g>
        <polygon points="1771,42 1788,42 1779.5,51" fill="#b5b5b5" />
        <polygon points="1883,42 1901,42 1892,51" fill="#777" />
        <Gear cx={1848} cy={53} r={19} color="#7a7a7a" />

        <g stroke="#8a8a8a" strokeWidth={2} fill="none">
          <line x1={276} y1={1097} x2={276} y2={1118} />
          <polyline points="265,1108 276,1094 287,1108" />
        </g>
        <Gear cx={335} cy={1106} r={12} color="#8a8a8a" />
        <g stroke="#9a9a9a" strokeWidth={3.5}>
          <line x1={383} y1={1097} x2={401} y2={1115} />
          <line x1={401} y1={1097} x2={383} y2={1115} />
        </g>

        <polygon points="201,1156 164,1190 184,1216 202,1202" fill="#3a3a3a" />
        <polygon points="145,1212 164,1195 202,1230 184,1257 145,1217" fill="#5e5f63" />
        <polygon points="221,1175 258,1213 238,1235 202,1203" fill="#ee5b58" />
        <polygon points="202,1232 238,1235 202,1275" fill="#d93835" />
        <polygon points="202,1203 238,1235 202,1232" fill="#e84040" />
      </svg>

      <div
        style={{
          position: "absolute",
          left: 19,
          top: 1176,
          color: "#ee4540",
          font: "700 59px 'Noto Sans CJK JP'",
          lineHeight: "80px",
          whiteSpace: "nowrap",
        }}
      >
        東西
      </div>
      <div
        style={{
          position: "absolute",
          left: 268,
          top: 1175,
          color: "#444",
          font: "700 70px 'Liberation Sans'",
          lineHeight: "80px",
          transform: "scaleX(1.4)",
          transformOrigin: "0 0",
        }}
      >
        FX
      </div>
      <div
        style={{
          position: "absolute",
          left: 1522,
          top: 1188,
          color: "#fff",
          font: "42px 'Open Sans'",
          lineHeight: "56px",
          whiteSpace: "nowrap",
        }}
      >
        www.tozaifx.com
      </div>
    </div>
  );
}
